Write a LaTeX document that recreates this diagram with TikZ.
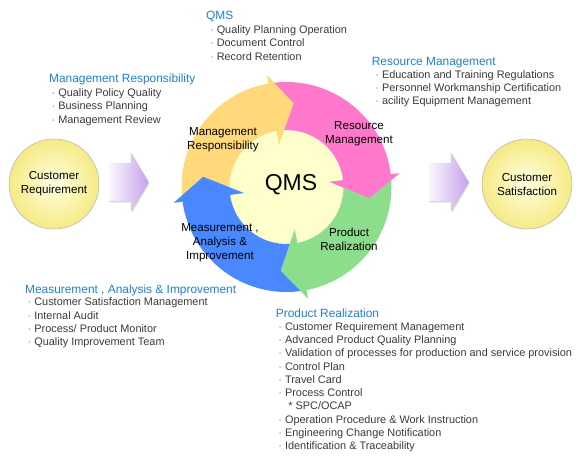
\documentclass[tikz,border=0pt]{standalone}
\usepackage{fontspec}
\setmainfont{Liberation Sans}
\usetikzlibrary{shapes.arrows,shadows}

\definecolor{headblue}{HTML}{1E80CC}
\definecolor{itemgray}{HTML}{3A3A3A}
\definecolor{mgmtyellow}{HTML}{FFD97A}
\definecolor{respink}{HTML}{FF78CC}
\definecolor{prodgreen}{HTML}{8CDD8C}
\definecolor{measblue}{HTML}{4A88FF}
\definecolor{hubyellow}{HTML}{FFFFCC}
\definecolor{custpale}{HTML}{FFFFE2}
\definecolor{custdeep}{HTML}{F6EA84}
\definecolor{arrowlav}{HTML}{C6A2EC}

% one arrow of the ring: colour, start angle, end angle
\newcommand{\ringarrow}[3]{%
  \fill[#1] (#2-3.3:105) arc[start angle=#2-3.3, end angle=#3, radius=105]
    -- (#3:114) -- (#3-15:84) -- (#3:43) -- (#3:57)
    arc[start angle=#3, end angle=#2-7.7, radius=57]
    -- (#2-15:84) -- cycle;}
\newcommand{\bul}{{\color{gray}·}\ }

\begin{document}
\begin{tikzpicture}[x=1pt,y=1pt,
  heading/.style={font=\fontsize{11.9}{13}\selectfont,text=headblue,inner sep=0pt,anchor=base west},
  itemlist/.style={font=\fontsize{10.9}{13.3}\selectfont,text=itemgray,align=left,inner sep=0pt,anchor=north west},
  ringlabel/.style={font=\fontsize{11.6}{14}\selectfont,align=center,inner sep=0pt},
  custcircle/.style={circle,minimum size=90pt,inner sep=0pt,draw=gray!55,line width=0.6pt,
    inner color=custpale,outer color=custdeep,font=\fontsize{11.6}{14}\selectfont,align=center},
  flowarrow/.style={single arrow,minimum height=40pt,minimum width=58pt,single arrow head extend=10pt,
    text height=19pt,text depth=19pt,text width=0pt,anchor=tail,
    single arrow tip angle=118,inner sep=0pt,left color=arrowlav!8,right color=arrowlav,
    drop shadow={shadow xshift=0.8pt,shadow yshift=-1.2pt,fill=gray!70}}]

\useasboundingbox (0,0) rectangle (580,-456);

% customers
\node[custcircle] (custreq) at (54,-184) {Customer\\Requirement};
\node[custcircle] (custsat) at (527,-184) {Customer\\Satisfaction};
\node[flowarrow] (inarrow) at (108.5,-182) {};
\node[flowarrow] (outarrow) at (428.5,-182) {};

% wheel
\coordinate (hub) at (286.5,-187);
\fill[hubyellow] (hub) circle[radius=57];
\begin{scope}[shift={(hub)}]
  \ringarrow{mgmtyellow}{188}{100}
  \ringarrow{respink}{100}{7}
  \ringarrow{prodgreen}{7}{-79}
  \ringarrow{measblue}{-79}{-172}
\end{scope}

\node[ringlabel] (mgmtlbl) at (223,-140) {Management\\Responsibility};
\node[ringlabel] (reslbl) at (359,-134) {Resource\\Management};
\node[font=\fontsize{23}{26}\selectfont,inner sep=0pt] (qmslbl) at (291,-185) {QMS};
\node[ringlabel] (measlbl) at (220,-243) {Measurement ,\\Analysis \&\\Improvement};
\node[ringlabel] (prodlbl) at (349,-239) {Product\\Realization};

% lists
\node[heading] (qmshead) at (206,-19.3) {QMS};
\node[itemlist] (qmsitems) at (209.9,-25.3) {\bul Quality Planning Operation\\\bul Document Control\\\bul Record Retention};

\node[heading] (reshead) at (371.7,-65.3) {Resource Management};
\node[itemlist] (resitems) at (375.2,-70) {\bul Education and Training Regulations\\\bul Personnel Workmanship Certification\\\bul acility Equipment Management};

\node[heading] (mgmthead) at (49,-82.6) {Management Responsibility};
\node[itemlist] (mgmtitems) at (51.5,-88.3) {\bul Quality Policy Quality\\\bul Business Planning\\\bul Management Review};

\node[heading] (meashead) at (25,-293.3) {Measurement , Analysis \& Improvement};
\node[itemlist] (measitems) at (27.5,-297.7) {\bul Customer Satisfaction Management\\\bul Internal Audit\\\bul Process/ Product Monitor\\\bul Quality Improvement Team};

\node[heading] (prodhead) at (275.7,-317) {Product Realization};
\node[itemlist] (proditems) at (278.2,-322) {\bul Customer Requirement Management\\\bul Advanced Product Quality Planning\\\bul Validation of processes for production and service provision\\\bul Control Plan\\\bul Travel Card\\\bul Process Control\\\hspace*{10pt}* SPC/OCAP\\\bul Operation Procedure \& Work Instruction\\\bul Engineering Change Notification\\\bul Identification \& Traceability};
\end{tikzpicture}
\end{document}
